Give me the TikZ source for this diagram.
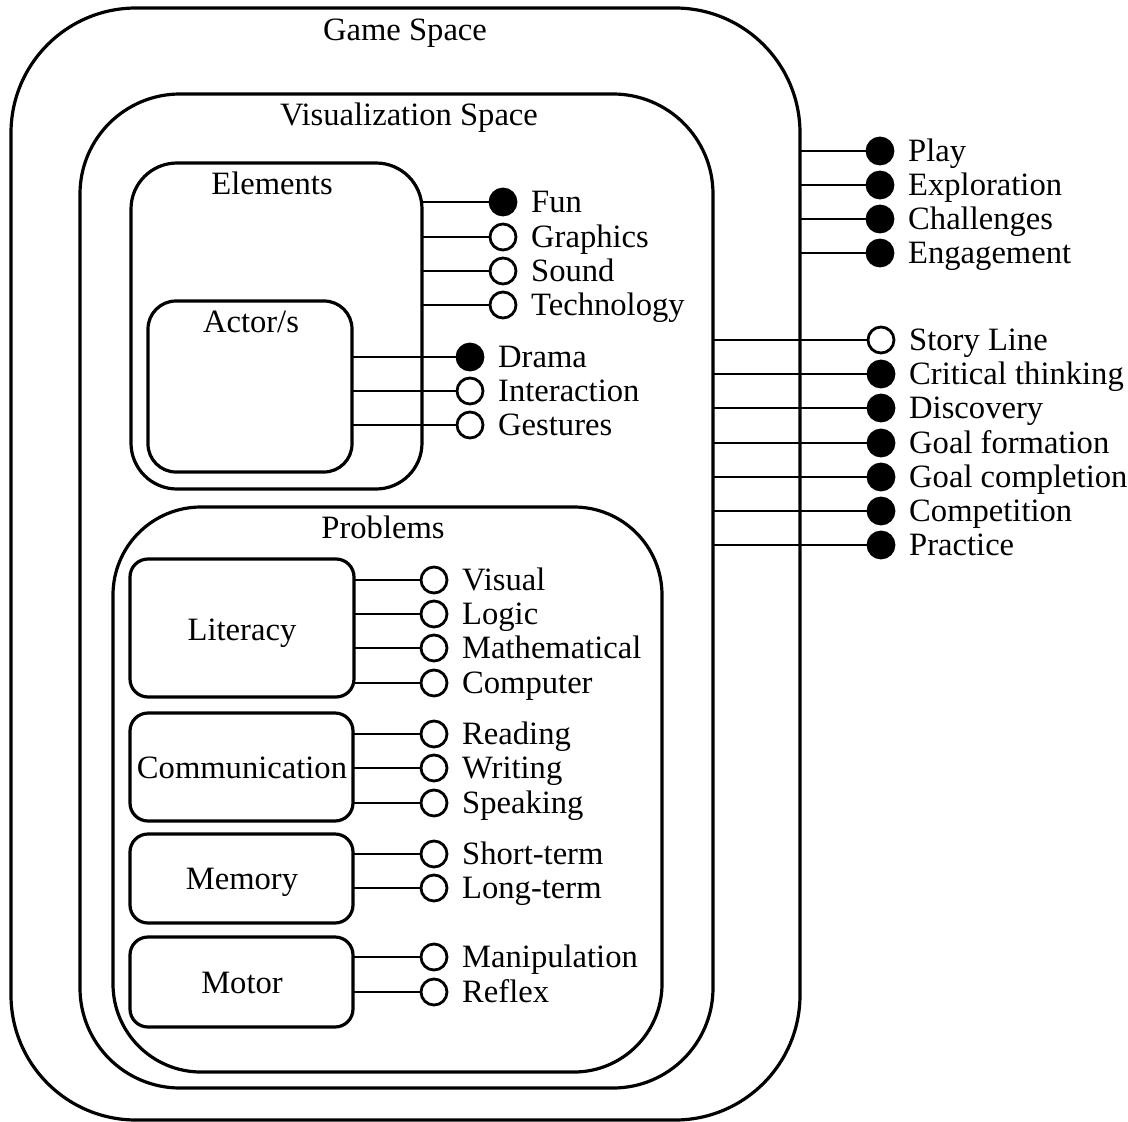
\documentclass[tikz,border=0pt]{standalone}
\usepackage{fontspec}
\setmainfont{Liberation Serif}
\begin{document}
\begin{tikzpicture}[x=1pt,y=-1pt,
  box/.style={draw, line width=3.2pt, inner sep=0pt, outer sep=0pt},
  conn/.style={line width=2.2pt},
  dotopen/.style={circle, draw, line width=2.8pt, fill=white, minimum size=26pt, inner sep=0pt},
  dotfull/.style={circle, draw, line width=2.8pt, fill=black, minimum size=26pt, inner sep=0pt},
  lbl/.style={anchor=base west, inner sep=0pt, font=\fontsize{32.6}{38}\selectfont},
  ttl/.style={anchor=base, inner sep=0pt, font=\fontsize{32.6}{38}\selectfont}]
\useasboundingbox (0,0) rectangle (1128,1122);
% boxes
\node[box, rounded corners=125pt, minimum width=789pt, minimum height=1112pt] (game) at (405.5,564) {};
\node[box, rounded corners=100pt, minimum width=633pt, minimum height=994pt] (vis) at (396.5,591) {};
\node[box, rounded corners=46pt, minimum width=291pt, minimum height=326pt] (elem) at (276.5,326) {};
\node[box, rounded corners=28pt, minimum width=204pt, minimum height=171pt] (actor) at (250,386.5) {};
\node[box, rounded corners=88pt, minimum width=549pt, minimum height=565pt] (prob) at (387.5,789.5) {};
\node[box, rounded corners=18pt, minimum width=224pt, minimum height=138pt] (lit) at (242,628) {};
\node[box, rounded corners=18pt, minimum width=223pt, minimum height=108pt] (comm) at (241.5,767) {};
\node[box, rounded corners=18pt, minimum width=223pt, minimum height=89pt] (mem) at (241.5,878.5) {};
\node[box, rounded corners=18pt, minimum width=223pt, minimum height=90pt] (motor) at (241.5,982) {};
% titles
\node[ttl] (gameT) at (405,40) {Game Space};
\node[ttl] (visT) at (409,125) {Visualization Space};
\node[ttl] (elemT) at (272,194) {Elements};
\node[ttl] (actorT) at (251,332) {Actor/s};
\node[ttl] (probT) at (383,538) {Problems};
\node[ttl] (litT) at (242,640) {Literacy};
\node[ttl] (commT) at (242,778) {Communication};
\node[ttl] (memT) at (242,889) {Memory};
\node[ttl] (motorT) at (242,993) {Motor};
% items
\foreach \src/\x/\n/\y/\s/\t in {
  game/880/play/151/dotfull/Play,
  game/880/explo/185/dotfull/Exploration,
  game/880/chall/219/dotfull/Challenges,
  game/880/engag/253/dotfull/Engagement,
  vis/881/story/340/dotopen/Story Line,
  vis/881/crit/374/dotfull/Critical thinking,
  vis/881/disc/408/dotfull/Discovery,
  vis/881/gform/443/dotfull/Goal formation,
  vis/881/gcomp/477/dotfull/Goal completion,
  vis/881/compet/511/dotfull/Competition,
  vis/881/pract/545/dotfull/Practice,
  elem/503/fun/202/dotfull/Fun,
  elem/503/graph/237/dotopen/Graphics,
  elem/503/sound/271/dotopen/Sound,
  elem/503/tech/305/dotopen/Technology,
  actor/470/drama/357/dotfull/Drama,
  actor/470/inter/391/dotopen/Interaction,
  actor/470/gest/425/dotopen/Gestures,
  lit/434/visual/580/dotopen/Visual,
  lit/434/logic/614/dotopen/Logic,
  lit/434/math/648/dotopen/Mathematical,
  lit/434/comp/683/dotopen/Computer,
  comm/434/read/734/dotopen/Reading,
  comm/434/writ/768/dotopen/Writing,
  comm/434/speak/803/dotopen/Speaking,
  mem/434/short/854/dotopen/Short-term,
  mem/434/long/888/dotopen/Long-term,
  motor/434/manip/957/dotopen/Manipulation,
  motor/434/reflex/992/dotopen/Reflex}{
  \node[\s] (\n) at (\x,\y) {};
  \draw[conn] (\src.east |- \n.center) -- (\n);
  \node[lbl] (\n-l) at (\x+28,\y+10.5) {\t};
}
\end{tikzpicture}
\end{document}
